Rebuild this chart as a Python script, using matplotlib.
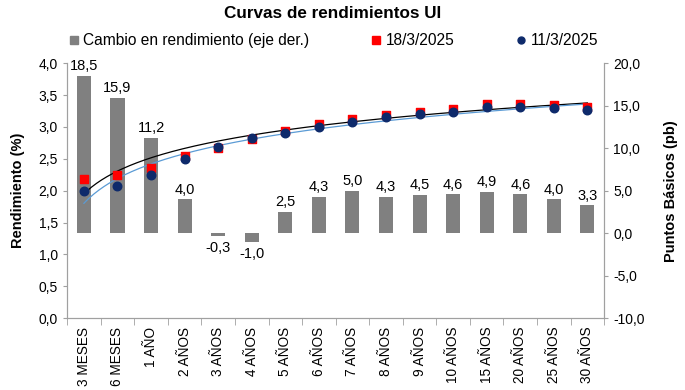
import matplotlib.pyplot as plt
import matplotlib.ticker as mticker
import numpy as np

plt.rcParams['font.family'] = ['Liberation Sans', 'DejaVu Sans']

# Data
categories = ["3 MESES", "6 MESES", "1 AÑO", "2 AÑOS", "3 AÑOS", "4 AÑOS", "5 AÑOS",
              "6 AÑOS", "7 AÑOS", "8 AÑOS", "9 AÑOS", "10 AÑOS", "15 AÑOS",
              "20 AÑOS", "25 AÑOS", "30 AÑOS"]
yield_18_3 = [2.19, 2.24, 2.35, 2.54, 2.67, 2.81, 2.93, 3.05, 3.13, 3.19,
              3.24, 3.28, 3.36, 3.36, 3.34, 3.31]
yield_11_3 = [2.00, 2.08, 2.24, 2.50, 2.68, 2.82, 2.90, 3.00, 3.08, 3.15,
              3.20, 3.23, 3.31, 3.31, 3.30, 3.27]
change_bp = [18.5, 15.9, 11.2, 4.0, -0.3, -1.0, 2.5, 4.3, 5.0, 4.3,
             4.5, 4.6, 4.9, 4.6, 4.0, 3.3]


def comma(v, pos=None):
    return f"{v:.1f}".replace(".", ",")


def log_trend(y):
    # Excel-style logarithmic trendline over category index 1..n
    xi = np.arange(1, len(y) + 1)
    a, b = np.polyfit(np.log(xi), y, 1)
    xs = np.linspace(1, len(y), 200)
    return xs - 1, a * np.log(xs) + b


fig = plt.figure(figsize=(6.85, 3.9), dpi=100)
ax = fig.add_axes([0.098, 0.184, 0.784, 0.654])
ax2 = ax.twinx()
ax.set_zorder(ax2.get_zorder() + 1)
ax.patch.set_visible(False)

x = np.arange(len(categories))
grey = "#808080"

# Bars on the right axis
ax2.bar(x, change_bp, width=0.42, color=grey, zorder=1)
for xi, v in zip(x, change_bp):
    if v >= 0:
        ax2.text(xi, v + 0.3, comma(v), ha="center", va="bottom", fontsize=10.5)
    else:
        ax2.text(xi, v - 0.6, comma(v), ha="center", va="top", fontsize=10.5)
ax2.set_ylim(-10, 20)
ax2.yaxis.set_major_locator(mticker.MultipleLocator(5))
ax2.yaxis.set_major_formatter(mticker.FuncFormatter(comma))
ax2.set_ylabel("Puntos Básicos (pb)", fontsize=10.5, fontweight="bold", labelpad=14)

# Trend lines and points on the left axis
tx, ty = log_trend(yield_18_3)
ax.plot(tx, ty, color="black", lw=0.9, zorder=2)
tx, ty = log_trend(yield_11_3)
ax.plot(tx, ty, color="#5b9bd5", lw=0.9, zorder=2)
ax.scatter(x, yield_18_3, marker="s", s=38, color="#ff0000", zorder=3)
ax.scatter(x, yield_11_3, marker="o", s=38, color="#0e2a6b", zorder=4)

ax.set_ylim(0, 4)
ax.set_xlim(-0.5, len(categories) - 0.5)
ax.yaxis.set_major_locator(mticker.MultipleLocator(0.5))
ax.yaxis.set_major_formatter(mticker.FuncFormatter(comma))
ax.set_ylabel("Rendimiento (%)", fontsize=10.5, fontweight="bold", labelpad=10)

ax.set_xticks(x)
ax.set_xticklabels(categories, rotation=90, fontsize=9.8)
ax.set_xticks(np.arange(-0.5, len(categories)), minor=True)
ax.tick_params(axis="x", which="major", length=0, pad=6)
ax.tick_params(axis="x", which="minor", length=5, color="#a0a0a0")

for a in (ax, ax2):
    a.tick_params(axis="y", labelsize=10, length=3, color="#a0a0a0")
    a.spines["top"].set_visible(False)
    for s in ("left", "right", "bottom"):
        a.spines[s].set_color("#a0a0a0")

fig.text(0.485, 0.965, "Curvas de rendimientos UI", ha="center", va="center",
         fontsize=12.3, fontweight="bold")

# Legend
handles = [
    plt.Line2D([], [], ls="none", marker="s", ms=6, color=grey),
    plt.Line2D([], [], ls="none", marker="s", ms=6, color="#ff0000"),
    plt.Line2D([], [], ls="none", marker="o", ms=5, color="#0e2a6b"),
]
labels = ["Cambio en rendimiento (eje der.)", "18/3/2025", "11/3/2025"]
fig.legend(handles, labels, loc="center", bbox_to_anchor=(0.487, 0.895), ncol=3,
           frameon=False, fontsize=11.2, handlelength=0.6, handletextpad=0.3,
           columnspacing=4.0)

fig.savefig("out.png", dpi=100)
